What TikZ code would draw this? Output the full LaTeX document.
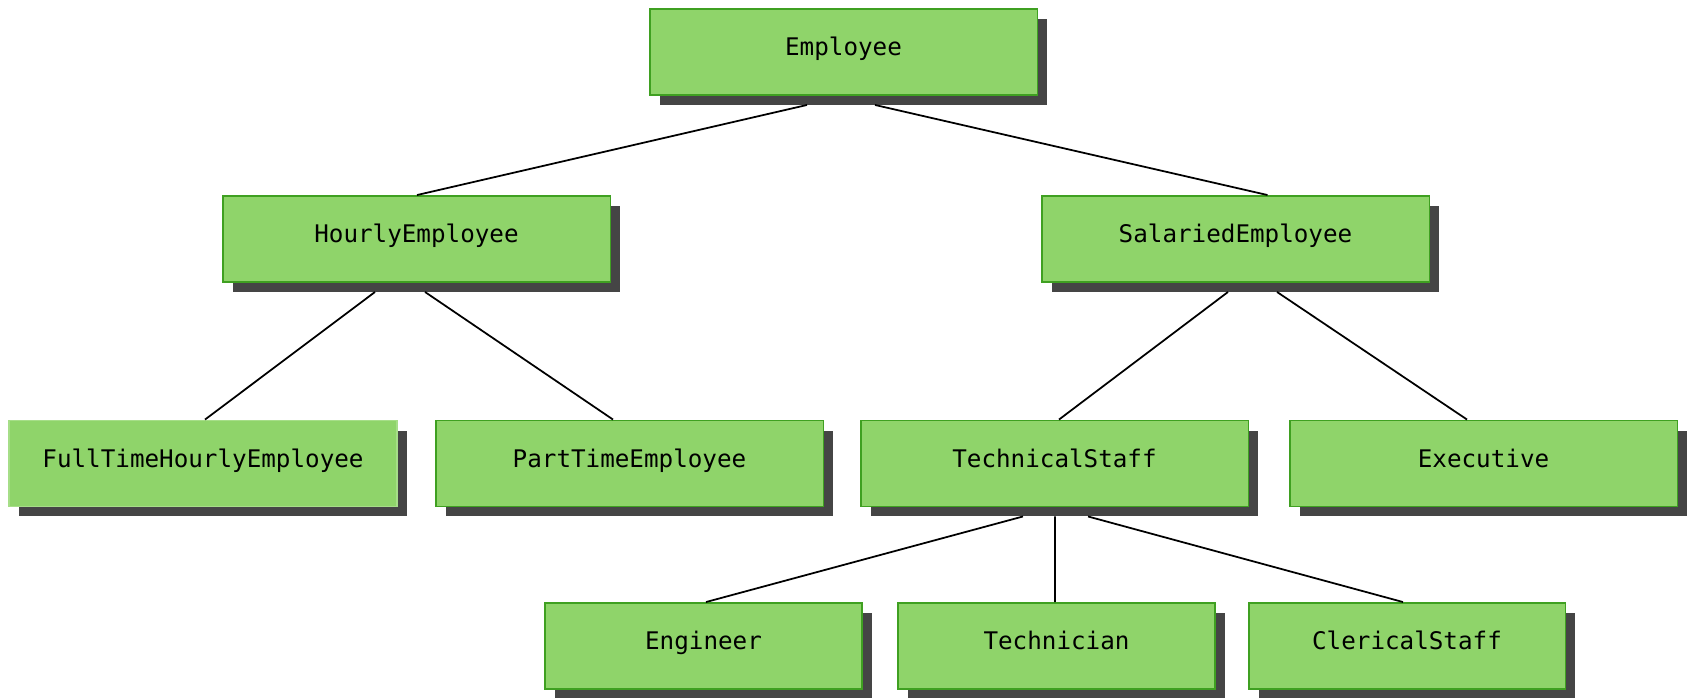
\documentclass[tikz,border=0pt]{standalone}
\usepackage{fontspec}
\setmonofont{DejaVu Sans Mono}
\usetikzlibrary{calc,shadows}
\definecolor{boxfill}  {HTML}{8FD46A}
\definecolor{boxedge}  {HTML}{3FA021}
\definecolor{paleedge} {HTML}{A6DE88}
\definecolor{shade}    {HTML}{454545}
\tikzset{
  cls/.style   ={draw=boxedge, fill=boxfill, line width=1.1pt,
                 minimum width=7.76cm, minimum height=1.72cm, inner sep=0pt,
                 text height=0.35cm, text depth=0.2cm,
                 font=\ttfamily\fontsize{13.8}{16}\selectfont,
                 general shadow={fill=shade, shadow xshift=0.2cm, shadow yshift=-0.2cm}},
  leaf/.style  ={cls, minimum width=6.34cm},
  pale/.style  ={cls, draw=paleedge},
  link/.style  ={line width=1pt, black},
}
\begin{document}
\begin{tikzpicture}[x=0.02cm,y=-0.02cm]
  \useasboundingbox (0,0) rectangle (1690,697);

  % classes
  \node[cls]  (emp)  at (843.5,52)  {Employee};
  \node[cls]  (hour) at (416.5,239) {HourlyEmployee};
  \node[cls]  (sal)  at (1235.5,239) {SalariedEmployee};
  \node[pale] (full) at (203,463.5) {FullTimeHourlyEmployee};
  \node[cls]  (part) at (629.5,463.5) {PartTimeEmployee};
  \node[cls]  (tech) at (1054.5,463.5) {TechnicalStaff};
  \node[cls]  (exec) at (1483.5,463.5) {Executive};
  \node[leaf] (eng)  at (703.5,646) {Engineer};
  \node[leaf] (tcn)  at (1056.5,646) {Technician};
  \node[leaf] (cler) at (1407,646) {ClericalStaff};

  % inheritance links
  \draw[link] ($(emp.south)+(-36.5,9)$)  -- ($(hour.north)+(0.5,0)$);
  \draw[link] ($(emp.south)+(31.5,9)$)   -- ($(sal.north)+(32,0)$);
  \draw[link] ($(hour.south)+(-41.5,9)$) -- ($(full.north)+(2,0)$);
  \draw[link] ($(hour.south)+(8.5,9)$)   -- ($(part.north)+(-16.5,0)$);
  \draw[link] ($(sal.south)+(-7.5,9)$)   -- ($(tech.north)+(4.5,0)$);
  \draw[link] ($(sal.south)+(41.5,9)$)   -- ($(exec.north)+(-16.5,0)$);
  \draw[link] ($(tech.south)+(-31.5,9)$) -- ($(eng.north)+(2.5,0)$);
  \draw[link] ($(tech.south)+(0.5,9)$)   -- ($(tcn.north)+(-1.5,0)$);
  \draw[link] ($(tech.south)+(33.5,9)$)  -- ($(cler.north)+(-4,0)$);
\end{tikzpicture}
\end{document}
